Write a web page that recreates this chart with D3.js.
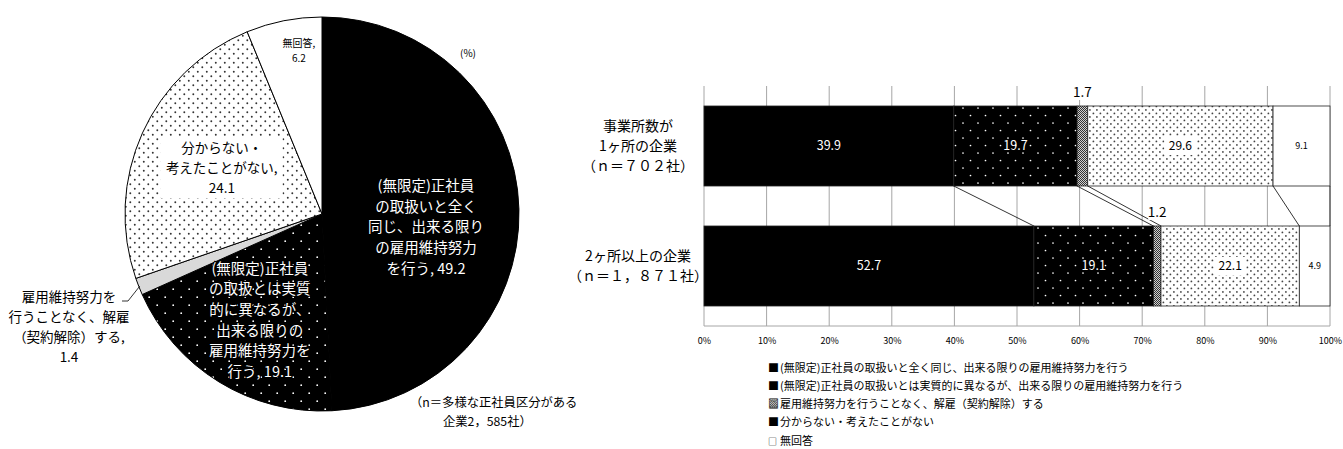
<!DOCTYPE html>
<html lang="ja">
<head>
<meta charset="utf-8">
<script src="https://cdn.jsdelivr.net/npm/d3@7"></script>
<style>
  html, body { margin: 0; padding: 0; background: #fff; }
  svg { display: block; font-family: "Noto Sans CJK JP", "Noto Sans", sans-serif; }
</style>
</head>
<body>
<svg id="chart" width="1343" height="449"></svg>
<script>
// ---- data ----
const pieLabels = [
  ["(無限定)正社員", "の取扱いと全く", "同じ、出来る限り", "の雇用維持努力", "を行う, 49.2"],
  ["(無限定)正社員", "の取扱とは実質", "的に異なるが、", "出来る限りの", "雇用維持努力を", "行う, 19.1"],
  ["雇用維持努力を", "行うことなく、解雇", "（契約解除）する,", "1.4"],
  ["分からない・", "考えたことがない,", "24.1"],
  ["無回答,", "6.2"]
];
const pieValues = [49.2, 19.1, 1.4, 24.1, 6.2];
const pieNote = ["（n＝多様な正社員区分がある", "企業2，585社）"];
const unitLabel = "(%)";

const barCategories = [
  ["事業所数が", "1ヶ所の企業", "（ｎ＝７０２社）"],
  ["2ヶ所以上の企業", "（ｎ＝１，８７１社）"]
];
const seriesNames = [
  "(無限定)正社員の取扱いと全く同じ、出来る限りの雇用維持努力を行う",
  "(無限定)正社員の取扱いとは実質的に異なるが、出来る限りの雇用維持努力を行う",
  "雇用維持努力を行うことなく、解雇（契約解除）する",
  "分からない・考えたことがない",
  "無回答"
];
const legendGlyphs = ["■", "■", "▩", "■", "□"];
const valuesOneSite = [39.9, 19.7, 1.7, 29.6, 9.1];
const valuesMultiSite = [52.7, 19.1, 1.2, 22.1, 4.9];
const xTicks = [0, 10, 20, 30, 40, 50, 60, 70, 80, 90, 100];

// ---- setup ----
const svg = d3.select("#chart");
const defs = svg.append("defs");

function dotPattern(id, size, bg, dot, r) {
  const p = defs.append("pattern").attr("id", id)
    .attr("patternUnits", "userSpaceOnUse").attr("width", size).attr("height", size);
  p.append("rect").attr("width", size).attr("height", size).attr("fill", bg);
  p.append("circle").attr("cx", size * 0.2).attr("cy", size * 0.2).attr("r", r).attr("fill", dot);
  p.append("circle").attr("cx", size * 0.7).attr("cy", size * 0.7).attr("r", r).attr("fill", dot);
}
dotPattern("darkDotsPie", 16, "#000", "#fff", 0.9);
dotPattern("darkDotsBar", 15, "#000", "#fff", 0.85);
dotPattern("lightDotsPie", 9, "#fff", "#333", 0.95);
dotPattern("lightDotsBar", 7, "#fff", "#444", 0.9);
{
  const p = defs.append("pattern").attr("id", "checker")
    .attr("patternUnits", "userSpaceOnUse").attr("width", 2).attr("height", 2);
  p.append("rect").attr("width", 2).attr("height", 2).attr("fill", "#d0d0d0");
  p.append("rect").attr("width", 1).attr("height", 1).attr("fill", "#333");
  p.append("rect").attr("x", 1).attr("y", 1).attr("width", 1).attr("height", 1).attr("fill", "#333");
}

const pieFills = ["#000", "url(#darkDotsPie)", "#d9d9d9", "url(#lightDotsPie)", "#fff"];
const barFills = ["#000", "url(#darkDotsBar)", "url(#checker)", "url(#lightDotsBar)", "#fff"];

// ---- pie ----
const cx = 322, cy = 214, R = 197;
const pieG = svg.append("g").attr("transform", `translate(${cx},${cy})`);
const arcs = d3.pie().sort(null).value(d => d)(pieValues);
const arcGen = d3.arc().innerRadius(0).outerRadius(R);

pieG.selectAll("path.slice").data(arcs).join("path")
  .attr("class", "slice")
  .attr("d", arcGen)
  .attr("fill", (d, i) => pieFills[i])
  .attr("stroke", "#000")
  .attr("stroke-width", 1);

// label placement: radius from centre along slice middle, plus small nudge
const pieLabelLayout = [
  { r: 104, dx: 0, dy: 16, size: 14.5, lh: 20.6, color: "#fff" },
  { r: 121, dx: 1, dy: 3, size: 14.5, lh: 20.6, color: "#fff", halo: true },
  null,
  { r: 110, dx: 0, dy: 0, size: 13.5, lh: 20, color: "#000", box: true },
  { r: 166, dx: 9, dy: 0, size: 10, lh: 15, color: "#000" }
];

arcs.forEach((a, i) => {
  const L = pieLabelLayout[i];
  if (!L) return;
  const mid = (a.startAngle + a.endAngle) / 2;
  const x = Math.sin(mid) * L.r + L.dx;
  const y = -Math.cos(mid) * L.r + L.dy;
  const lines = pieLabels[i];
  const g = pieG.append("g");
  const t = g.append("text")
    .attr("text-anchor", "middle")
    .attr("font-size", L.size)
    .attr("fill", L.color);
  lines.forEach((s, k) => {
    t.append("tspan").attr("x", x)
      .attr("y", y + (k - (lines.length - 1) / 2) * L.lh)
      .attr("dy", "0.35em").text(s);
  });
  if (L.halo) {
    t.attr("stroke", "#000").attr("stroke-width", 2.2).attr("paint-order", "stroke");
  }
  if (L.box) {
    const bb = t.node().getBBox();
    g.insert("rect", "text")
      .attr("x", bb.x - 5).attr("y", bb.y - 1)
      .attr("width", bb.width + 10).attr("height", bb.height + 2)
      .attr("fill", "#fff");
  }
});

// outside label for the thin slice, with leader line
{
  const a = arcs[2];
  const mid = (a.startAngle + a.endAngle) / 2;
  const ex = Math.sin(mid) * (R - 1), ey = -Math.cos(mid) * (R - 1);
  const lx = 69 - cx, ly = 327 - cy;
  const lines = pieLabels[2];
  const t = pieG.append("text").attr("text-anchor", "middle")
    .attr("font-size", 13.5).attr("fill", "#000");
  lines.forEach((s, k) => {
    t.append("tspan").attr("x", lx)
      .attr("y", ly + (k - (lines.length - 1) / 2) * 20)
      .attr("dy", "0.35em").text(s);
  });
  pieG.append("path")
    .attr("d", `M${lx + 53},${ly - 26} L${lx + 59},${ly - 26} L${ex},${ey}`)
    .attr("fill", "none").attr("stroke", "#000").attr("stroke-width", 0.8);
}

svg.append("text").attr("x", 468).attr("y", 53).attr("dy", "0.35em")
  .attr("text-anchor", "middle").attr("font-size", 10).text(unitLabel);

svg.append("text").attr("x", 410).attr("y", 403).attr("dy", "0.35em")
  .attr("font-size", 12.3).text(pieNote[0]);
svg.append("text").attr("x", 443).attr("y", 422).attr("dy", "0.35em")
  .attr("font-size", 12.3).text(pieNote[1]);

// ---- stacked 100% bar ----
const x = d3.scaleLinear().domain([0, 100]).range([704, 1330]);
const y = d3.scaleBand().domain(d3.range(barCategories.length))
  .range([86, 326]).paddingInner(1 / 3).paddingOuter(1 / 6);

const barG = svg.append("g");

// gridlines
barG.selectAll("line.grid").data(xTicks).join("line")
  .attr("class", "grid")
  .attr("x1", d => x(d)).attr("x2", d => x(d))
  .attr("y1", 86).attr("y2", 326)
  .attr("stroke", "#a6a6a6").attr("stroke-width", 1);
barG.append("line").attr("x1", x(0)).attr("x2", x(100)).attr("y1", 326).attr("y2", 326)
  .attr("stroke", "#a6a6a6").attr("stroke-width", 1);

const rows = [valuesOneSite, valuesMultiSite].map(vals => {
  let acc = 0;
  return vals.map((v, i) => { const s = acc; acc += v; return { i, v, x0: s, x1: acc }; });
});

// series lines connecting segment boundaries between the two bars
const seriesLinks = d3.range(seriesNames.length).map(i => [rows[0][i].x1, rows[1][i].x1]);
barG.selectAll("line.link").data(seriesLinks).join("line")
  .attr("class", "link")
  .attr("x1", d => x(d[0])).attr("y1", y(0) + y.bandwidth())
  .attr("x2", d => x(d[1])).attr("y2", y(1))
  .attr("stroke", "#000").attr("stroke-width", 0.8);

rows.forEach((segs, r) => {
  const g = barG.append("g");
  g.selectAll("rect").data(segs).join("rect")
    .attr("x", d => x(d.x0)).attr("y", y(r))
    .attr("width", d => x(d.x1) - x(d.x0)).attr("height", y.bandwidth())
    .attr("fill", d => barFills[d.i])
    .attr("stroke", "#222").attr("stroke-width", 0.8);

  segs.forEach(d => {
    const cxp = (x(d.x0) + x(d.x1)) / 2;
    const cyp = y(r) + y.bandwidth() / 2;
    if (d.i === 2) {
      const ly = y(r) - 14;
      g.append("rect").attr("x", cxp - 9).attr("y", ly - 8)
        .attr("width", 18).attr("height", 16).attr("fill", "#fff");
      g.append("text").attr("x", cxp).attr("y", ly).attr("dy", "0.35em")
        .attr("text-anchor", "middle").attr("font-size", 13.5).text(d.v.toFixed(1));
      return;
    }
    const style = [
      { size: 12.5, color: "#fff" },
      { size: 12.5, color: "#fff" },
      null,
      { size: 12, color: "#000", box: true },
      { size: 9, color: "#000" }
    ][d.i];
    if (style.box) {
      g.append("rect").attr("x", cxp - 16).attr("y", cyp - 9)
        .attr("width", 32).attr("height", 18).attr("fill", "#fff");
    }
    g.append("text").attr("x", cxp).attr("y", cyp).attr("dy", "0.35em")
      .attr("text-anchor", "middle").attr("font-size", style.size)
      .attr("fill", style.color).text(d.v.toFixed(1));
  });
});

// category labels
barCategories.forEach((lines, r) => {
  const mid = y(r) + y.bandwidth() / 2;
  const t = barG.append("text").attr("text-anchor", "middle")
    .attr("font-size", 14).attr("fill", "#000");
  lines.forEach((s, k) => {
    t.append("tspan").attr("x", 638)
      .attr("y", mid + (k - (lines.length - 1) / 2) * 20)
      .attr("dy", "0.35em").text(s);
  });
});

// x axis labels
const axis = d3.axisBottom(x).tickValues(xTicks).tickFormat(d => d + "%")
  .tickSize(0).tickPadding(12);
const axG = barG.append("g").attr("transform", "translate(0,326)").call(axis);
axG.select(".domain").remove();
axG.selectAll("text").attr("font-size", 9).attr("font-family", "\"Noto Sans CJK JP\", sans-serif")
  .attr("fill", "#000");

// legend
const legend = svg.append("g").attr("transform", "translate(768,368)");
seriesNames.forEach((s, i) => {
  const t = legend.append("text").attr("x", 0).attr("y", i * 18.2).attr("dy", "0.35em")
    .attr("font-size", 11).attr("fill", "#000");
  t.append("tspan").attr("font-size", i === 4 ? 9 : 11).text(legendGlyphs[i]);
  t.append("tspan").attr("x", 12).text(s);
});
</script>
</body>
</html>
